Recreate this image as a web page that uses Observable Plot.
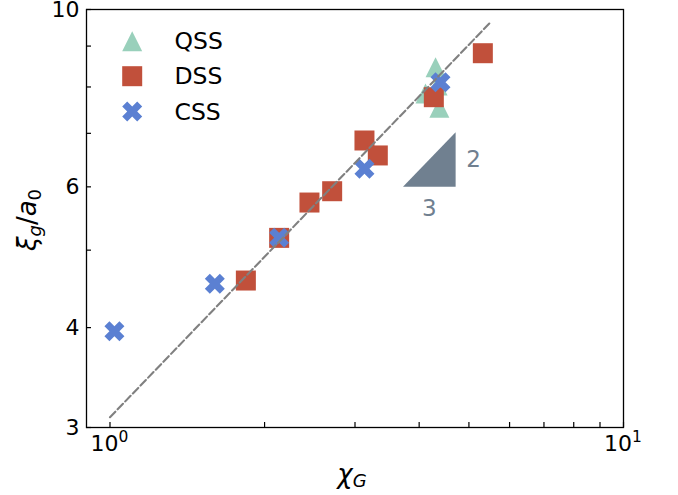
<!DOCTYPE html>
<html>
<head>
<meta charset="utf-8">
<script src="https://cdn.jsdelivr.net/npm/d3@7"></script>
<script src="https://cdn.jsdelivr.net/npm/@observablehq/plot@0.6"></script>
<style>
  html, body { margin: 0; padding: 0; background: #fff; }
  svg { display: block; }
</style>
</head>
<body>
<div id="chart"></div>
<script>
// Gyration length ξ_g/a_0 against χ_G for three soft-sphere families (log–log)
const qssChi = [4.305, 4.115, 4.344, 4.38];
const qssXi  = [8.47, 7.85, 8.035, 7.534];

const dssChi = [1.839, 2.135, 2.446, 2.708, 3.13, 3.323, 4.272, 5.322];
const dssXi  = [4.581, 5.18, 5.735, 5.925, 6.857, 6.568, 7.768, 8.817];

const cssChi = [1.02, 1.6, 2.135, 3.13, 4.402];
const cssXi  = [3.957, 4.539, 5.18, 6.32, 8.11];

// Reference power law, slope 2/3
const fitChi = [1, 5.5];
const fitXi  = [3.09, 9.63];

// Slope triangle (run 3, rise 2 in log units)
const slopeChi = [3.72, 4.71, 4.71];
const slopeXi  = [6.0, 6.0, 7.02];

const xTicks = [1, 2, 3, 4, 5, 6, 7, 8, 9, 10];
const xTickLabels = [{v: 1, base: "10", exp: "0"}, {v: 10, base: "10", exp: "1"}];
const yTicks = [3, 4, 5, 6, 7, 8, 9, 10];
const yTickLabels = [3, 4, 6, 10];

const seriesNames = ["QSS", "DSS", "CSS"];
const colors = {QSS: "#99d0bb", DSS: "#c1503b", CSS: "#5b80d2"};

// matplotlib-style filled marker shapes; r is the half-width in px
const rOf = size => Math.sqrt(size / Math.PI);
const triangleUp = {draw(ctx, size) { const r = rOf(size);
  ctx.moveTo(0, -r); ctx.lineTo(r, r); ctx.lineTo(-r, r); ctx.closePath(); }};
const squareSym = {draw(ctx, size) { const r = rOf(size);
  ctx.moveTo(-r, -r); ctx.lineTo(r, -r); ctx.lineTo(r, r); ctx.lineTo(-r, r); ctx.closePath(); }};
const xFilled = {draw(ctx, size) { const r = rOf(size), k = r / 2;
  const pts = [[-1,-2],[0,-1],[1,-2],[2,-1],[1,0],[2,1],[1,2],[0,1],[-1,2],[-2,1],[-1,0],[-2,-1]];
  pts.forEach(([a, b], i) => i ? ctx.lineTo(a * k, b * k) : ctx.moveTo(a * k, b * k));
  ctx.closePath(); }};
const symbols = {QSS: triangleUp, DSS: squareSym, CSS: xFilled};

const toRows = (xs, ys) => xs.map((x, i) => ({x, y: ys[i]}));
const qss = toRows(qssChi, qssXi);
const dss = toRows(dssChi, dssXi);
const css = toRows(cssChi, cssXi);
const fit = toRows(fitChi, fitXi);
const slope = toRows(slopeChi, slopeXi);

const W = 678, H = 495;
const mL = 86, mR = 55, mT = 9, mB = 68;
const innerW = W - mL - mR, innerH = H - mT - mB;
const tickLen = 5;
const font = "DejaVu Sans, sans-serif";
const tickFont = 22;
const legendFont = 23.5;
const R = 10;

const legendMarks = seriesNames.flatMap((name, i) => {
  const dy = [31.7, 66.7, 102][i];
  return [
    Plot.dot([name], {frameAnchor: "top-left", dx: 45.7, dy, r: R, symbol: symbols[name], fill: colors[name], stroke: "none"}),
    Plot.text([name], {frameAnchor: "top-left", dx: 88, dy: dy + 0.5, text: d => d, textAnchor: "start",
      lineAnchor: "middle", fontSize: legendFont, fontFamily: font, fill: "#000"})
  ];
});

const chart = Plot.plot({
  width: W, height: H,
  marginLeft: mL, marginRight: mR, marginTop: mT, marginBottom: mB,
  style: {background: "#fff", fontFamily: font},
  x: {type: "log", domain: [0.9, 10], axis: null},
  y: {type: "log", domain: [3, 10], axis: null},
  marks: [
    // inward ticks
    Plot.ruleX(xTicks, {x: d => d, insetTop: innerH - tickLen, stroke: "#000", strokeWidth: 1.2}),
    Plot.ruleY(yTicks, {y: d => d, insetRight: innerW - tickLen, stroke: "#000", strokeWidth: 1.2}),
    // decade labels: mantissa plus raised exponent
    Plot.text(xTickLabels, {x: "v", text: "base", frameAnchor: "bottom", dx: 8.5, dy: 16, textAnchor: "end",
      lineAnchor: "middle", fontSize: tickFont, fontFamily: font, fill: "#000"}),
    Plot.text(xTickLabels, {x: "v", text: "exp", frameAnchor: "bottom", dx: 8.5, dy: 9.5, textAnchor: "start",
      lineAnchor: "middle", fontSize: 15.5, fontFamily: font, fill: "#000"}),
    Plot.text(yTickLabels, {y: d => d, text: d => String(d), frameAnchor: "left", dx: -7, textAnchor: "end",
      lineAnchor: "middle", fontSize: tickFont, fontFamily: font, fill: "#000"}),
    // data
    Plot.dot(qss, {x: "x", y: "y", r: R, symbol: triangleUp, fill: colors.QSS, stroke: "none"}),
    Plot.dot(dss, {x: "x", y: "y", r: R, symbol: squareSym, fill: colors.DSS, stroke: "none"}),
    Plot.dot(css, {x: "x", y: "y", r: R, symbol: xFilled, fill: colors.CSS, stroke: "none"}),
    // slope guide
    Plot.line(slope, {x: "x", y: "y", fill: "#708090", stroke: "none"}),
    Plot.text([{x: slopeChi[1], y: Math.sqrt(slopeXi[1] * slopeXi[2])}], {x: "x", y: "y", text: () => "2",
      dx: 18, lineAnchor: "middle", fontSize: 23, fontFamily: font, fill: "#708090"}),
    Plot.text([{x: Math.sqrt(slopeChi[0] * slopeChi[1]), y: slopeXi[0]}], {x: "x", y: "y", text: () => "3",
      dy: 22, lineAnchor: "middle", fontSize: 23, fontFamily: font, fill: "#708090"}),
    // fit line
    Plot.line(fit, {x: "x", y: "y", stroke: "#808080", strokeWidth: 2.1, strokeDasharray: "7.7,3.3"}),
    ...legendMarks,
    Plot.frame({stroke: "#000", strokeWidth: 1.3})
  ]
});

document.getElementById("chart").appendChild(chart);

// axis titles with math-style sub-scripts
const svg = d3.select(chart);
const xl = svg.append("text")
  .attr("x", 352).attr("y", 483)
  .attr("font-family", font).attr("font-size", 26).attr("fill", "#000");
xl.append("tspan").attr("font-style", "italic").text("χ");
xl.append("tspan").attr("font-style", "italic").attr("font-size", 18).attr("dy", 4).text("G");

const yl = svg.append("text")
  .attr("transform", "translate(36,220) rotate(-90)")
  .attr("text-anchor", "middle")
  .attr("font-family", font).attr("font-size", 26).attr("fill", "#000");
yl.append("tspan").attr("font-style", "italic").text("ξ");
yl.append("tspan").attr("font-style", "italic").attr("font-size", 18).attr("dy", 5).text("g");
yl.append("tspan").attr("dy", -5).text("/");
yl.append("tspan").attr("font-style", "italic").text("a");
yl.append("tspan").attr("font-size", 18).attr("dy", 5).text("0");
</script>
</body>
</html>
